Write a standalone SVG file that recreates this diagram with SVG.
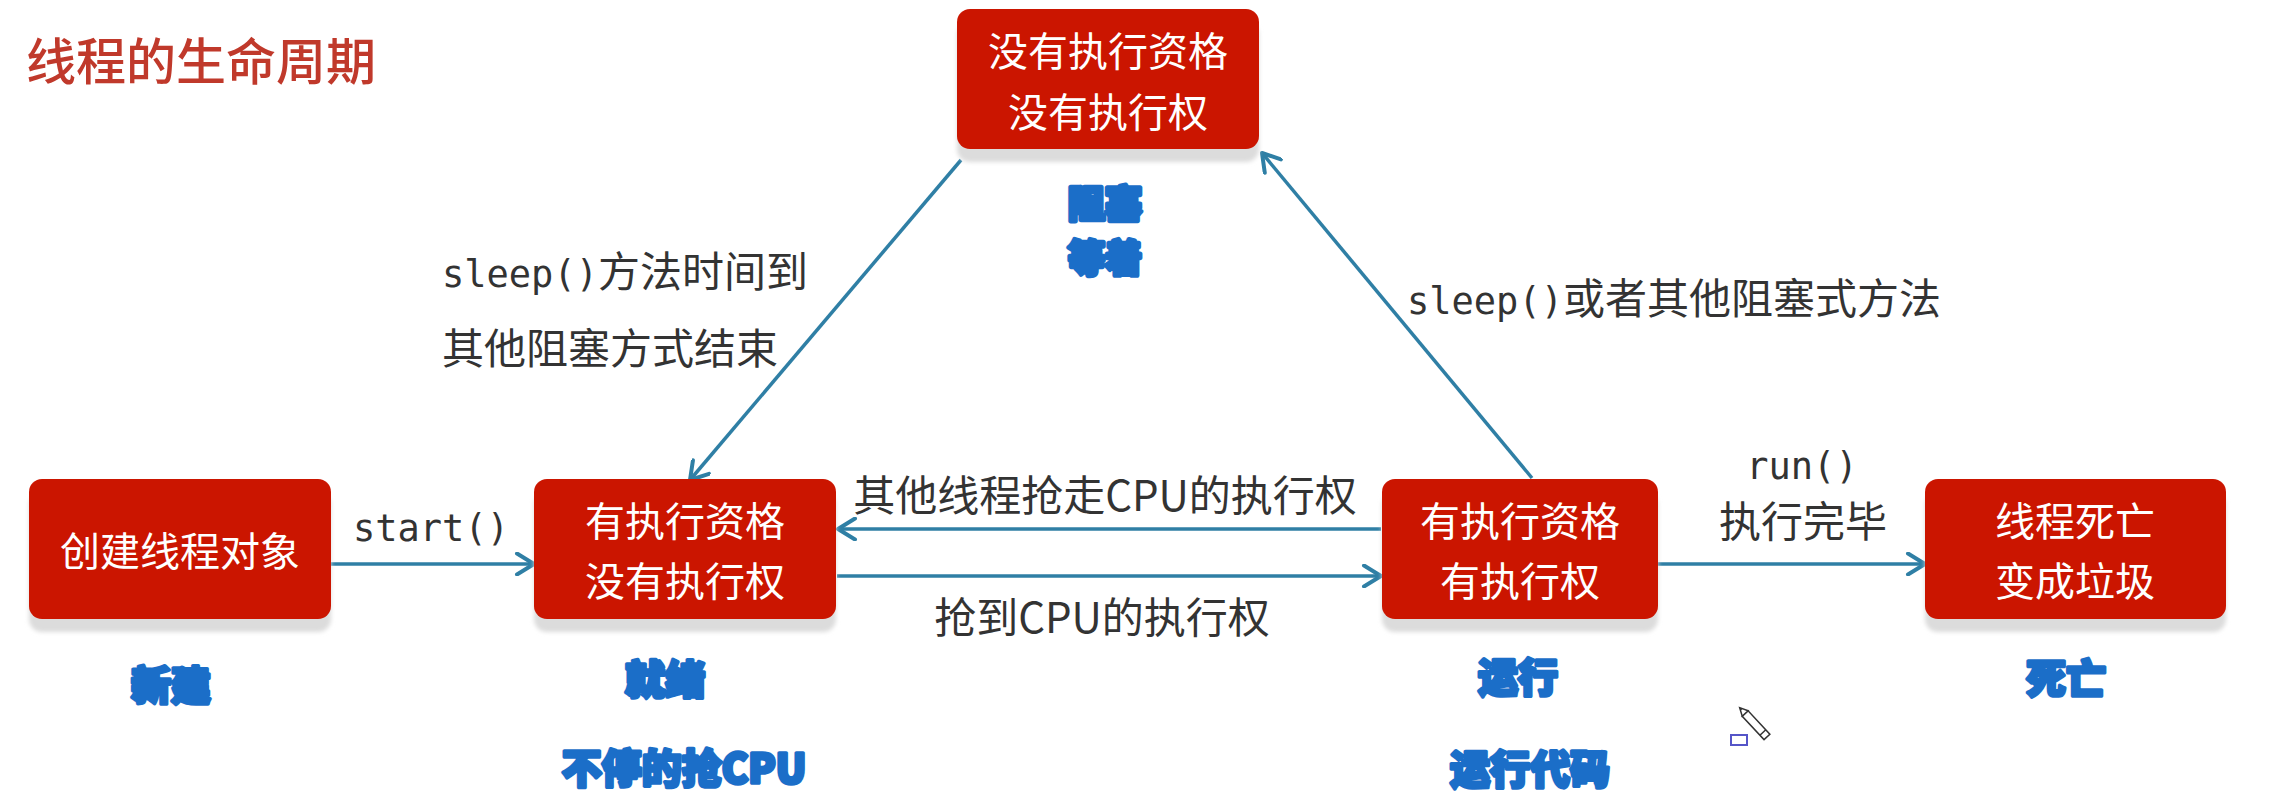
<svg xmlns="http://www.w3.org/2000/svg" width="2274" height="811" viewBox="0 0 2274 811">
<style>
.box{fill:#cb1500}
.shadow{fill:#dcdcdc;filter:url(#blur)}
.nt{font-family:"Noto Sans CJK SC","Noto Sans",sans-serif;font-size:40px;fill:#ffffff;text-anchor:middle}
.lbl{font-family:"Noto Sans CJK SC","Noto Sans",sans-serif;font-size:42px;fill:#333333}
.mono{font-family:"DejaVu Sans Mono","Liberation Mono",monospace;font-size:37px}
.blue{font-family:"Noto Sans CJK SC",sans-serif;font-size:40px;font-weight:900;fill:#1b6ec8;stroke:#1b6ec8;stroke-width:3.5;stroke-linejoin:round;text-anchor:middle}
.blue.sm{font-size:37px;stroke-width:4.5}
.conn{stroke:#2f7fa5;stroke-width:3.5;fill:none;marker-end:url(#arr)}
</style>
<defs>
<filter id="blur" x="-5%" y="-10%" width="110%" height="120%"><feGaussianBlur stdDeviation="2"/></filter>
<marker id="arr" viewBox="0 0 24 24" refX="21" refY="12" markerWidth="24" markerHeight="24" markerUnits="userSpaceOnUse" orient="auto">
<path d="M4,1.5 L21,12 L4,22.5" fill="none" stroke="#2f7fa5" stroke-width="4" stroke-linecap="round" stroke-linejoin="round"/>
</marker>
</defs>
<rect width="2274" height="811" fill="#ffffff"/>
<text x="26" y="80" font-family="'Noto Sans CJK SC',sans-serif" font-size="50" font-weight="500" fill="#c0392b">线程的生命周期</text>

<g id="connectors">
<line class="conn" x1="331" y1="564" x2="534" y2="564"/>
<line class="conn" x1="837" y1="576" x2="1381" y2="576"/>
<line class="conn" x1="1381" y1="529" x2="838" y2="529"/>
<line class="conn" x1="1658" y1="564" x2="1925" y2="564"/>
<line class="conn" x1="961" y1="160" x2="690" y2="480"/>
<line class="conn" x1="1532" y1="478" x2="1262" y2="153"/>
</g>

<g id="labels">
<text class="lbl mono" x="353" y="541">start()</text>
<text class="lbl" x="1105" y="511" text-anchor="middle">其他线程抢走CPU的执行权</text>
<text class="lbl" x="1102" y="633" text-anchor="middle">抢到CPU的执行权</text>
<text class="lbl mono" x="1802" y="479" text-anchor="middle">run()</text>
<text class="lbl" x="1803" y="537" text-anchor="middle">执行完毕</text>
<text class="lbl" x="442" y="287"><tspan class="mono">sleep()</tspan>方法时间到</text>
<text class="lbl" x="442" y="364">其他阻塞方式结束</text>
<text class="lbl" x="1407" y="314"><tspan class="mono">sleep()</tspan>或者其他阻塞式方法</text>
</g>

<g id="node-new">
<rect class="shadow" x="29" y="492" width="302" height="140" rx="13"/>
<rect class="box" x="29" y="479" width="302" height="140" rx="13"/>
<text class="nt" x="180" y="566">创建线程对象</text>
<text class="blue" x="171" y="700">新建</text>
</g>

<g id="node-ready">
<rect class="shadow" x="534" y="492" width="302" height="140" rx="13"/>
<rect class="box" x="534" y="479" width="302" height="140" rx="13"/>
<text class="nt" x="685" y="536">有执行资格</text>
<text class="nt" x="685" y="596">没有执行权</text>
<text class="blue" x="665" y="694">就绪</text>
<text class="blue" x="684" y="783">不停的抢CPU</text>
</g>

<g id="node-blocked">
<rect class="shadow" x="957" y="22" width="302" height="140" rx="13"/>
<rect class="box" x="957" y="9" width="302" height="140" rx="13"/>
<text class="nt" x="1108" y="66">没有执行资格</text>
<text class="nt" x="1108" y="127">没有执行权</text>
<text class="blue sm" x="1105" y="218">阻塞</text>
<text class="blue sm" x="1105" y="272">等着</text>
</g>

<g id="node-running">
<rect class="shadow" x="1382" y="492" width="276" height="140" rx="13"/>
<rect class="box" x="1382" y="479" width="276" height="140" rx="13"/>
<text class="nt" x="1520" y="536">有执行资格</text>
<text class="nt" x="1520" y="596">有执行权</text>
<text class="blue" x="1518" y="692">运行</text>
<text class="blue" x="1530" y="784">运行代码</text>
</g>

<g id="node-dead">
<rect class="shadow" x="1925" y="492" width="301" height="140" rx="13"/>
<rect class="box" x="1925" y="479" width="301" height="140" rx="13"/>
<text class="nt" x="2075" y="536">线程死亡</text>
<text class="nt" x="2075" y="596">变成垃圾</text>
<text class="blue" x="2066" y="693">死亡</text>
</g>

<g id="cursor">
<rect x="1731" y="735" width="16" height="10" fill="none" stroke="#5555c8" stroke-width="2"/>
<g transform="translate(1754,723) rotate(47)">
<rect x="-13" y="-4" width="32" height="8" fill="#ffffff" stroke="#333333" stroke-width="1.5"/>
<path d="M-13,-4 L-21,0 L-13,4 Z" fill="#ffffff" stroke="#333333" stroke-width="1.5"/>
<path d="M-18,-1.5 L-21,0 L-18,1.5 Z" fill="#333333"/>
<line x1="13" y1="-4" x2="13" y2="4" stroke="#333333" stroke-width="1.5"/>
</g>
</g>
</svg>
